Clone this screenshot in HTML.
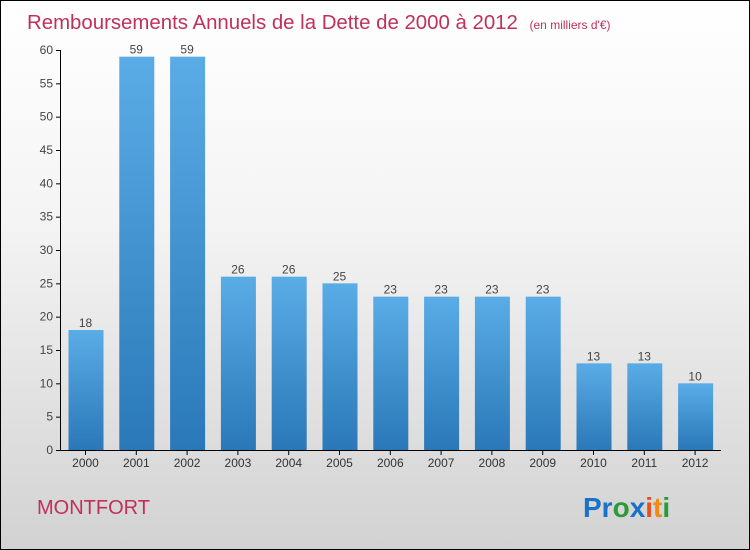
<!DOCTYPE html>
<html><head><meta charset="utf-8"><style>
body{margin:0}
#wrap{width:748px;height:548px;border:1px solid #000;background:linear-gradient(#ffffff,#f4f4f4 40%,#d2d2d2);position:relative;font-family:"Liberation Sans",sans-serif;overflow:hidden}
</style></head><body>
<div id="wrap">
<svg id="c" width="748" height="548">
<defs><linearGradient id="g" x1="0" y1="0" x2="0" y2="1"><stop offset="0" stop-color="#5aace6"/><stop offset="1" stop-color="#2a78b8"/></linearGradient></defs>
<text x="26" y="28" font-size="20.4" fill="#c0305a">Remboursements Annuels de la Dette de 2000 à 2012 <tspan font-size="12" dx="6">(en milliers d'€)</tspan></text>
<text x="36" y="513" font-size="20" fill="#c0305a">MONTFORT</text>
<text x="582" y="516" font-size="28" font-weight="bold"><tspan fill="#1a72c8">Pr</tspan><tspan fill="#2a9a3a">o</tspan><tspan fill="#1a72c8">x</tspan><tspan fill="#e8501a">i</tspan><tspan fill="#f08a10">t</tspan><tspan fill="#2a9a3a">i</tspan></text>
<g id="plot"></g>
</svg>
</div>
<script>
const categories=["2000","2001","2002","2003","2004","2005","2006","2007","2008","2009","2010","2011","2012"];
const values=[18,59,59,26,26,25,23,23,23,23,13,13,10];
const yTicks=[0,5,10,15,20,25,30,35,40,45,50,55,60];
const NS="http://www.w3.org/2000/svg";
const g=document.getElementById('plot');
const y=v=>449-v*400/60;
const x=i=>84.5+i*50.8;
function mk(t,a,txt){const e=document.createElementNS(NS,t);for(const k in a)e.setAttribute(k,a[k]);if(txt!=null)e.textContent=txt;g.appendChild(e);return e;}
const ax=mk('line',{x1:59.5,y1:y(60),x2:59.5,y2:y(0),stroke:'#000'});


const xa=mk('line',{x1:59.5,y1:y(0)+0.5,x2:720,y2:y(0)+0.5,stroke:'#000'});


yTicks.forEach(t=>{
 mk('line',{x1:55,x2:60,y1:y(t)+0.5,y2:y(t)+0.5,stroke:'#000'});
 const l=mk('text',{x:52,y:y(t)+4,'font-size':12,fill:'#444','text-anchor':'end'},t);
 
 
});
categories.forEach((c,i)=>{
 const b=mk('rect',{x:x(i)-17,y:y(values[i]),width:35,height:y(0)-y(values[i]),fill:'url(#g)'});
 
 
 mk('line',{x1:x(i),x2:x(i),y1:y(0),y2:y(0)+5,stroke:'#000'});
 const l=mk('text',{x:x(i),y:466,'font-size':12,fill:'#333','text-anchor':'middle'},c);
 
 
 const v=mk('text',{x:x(i),y:y(values[i])-3,'font-size':12,fill:'#444','text-anchor':'middle'},values[i]);
 
 
});
</script>
</body></html>
